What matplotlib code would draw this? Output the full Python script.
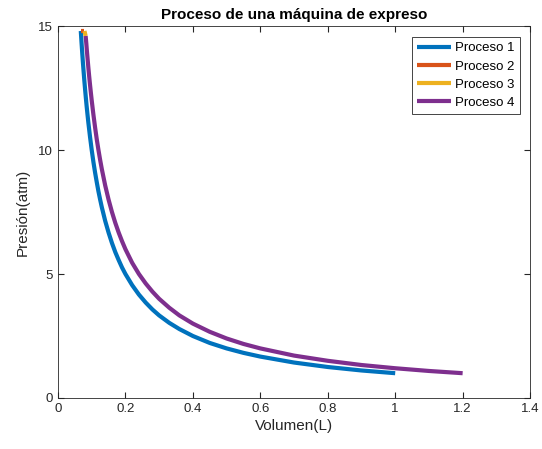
import matplotlib
matplotlib.use("Agg")
import matplotlib.pyplot as plt

plt.rcParams['font.family'] = ['Liberation Sans', 'DejaVu Sans']

# Process 1 (blue)
v1 = [0.0676, 0.07, 0.072, 0.074, 0.076, 0.078, 0.08, 0.0825, 0.085, 0.0875, 0.09, 0.095, 0.1, 0.105, 0.11,
      0.115, 0.12, 0.125, 0.13, 0.14, 0.15, 0.16, 0.17, 0.18, 0.19, 0.2, 0.22, 0.24, 0.26, 0.28, 0.3, 0.33,
      0.36, 0.4, 0.45, 0.5, 0.55, 0.6, 0.7, 0.8, 0.9, 1.0]
p1 = [14.8, 14.29, 13.89, 13.51, 13.16, 12.82, 12.5, 12.12, 11.76, 11.43, 11.11, 10.53, 10.0, 9.52, 9.09,
      8.7, 8.33, 8.0, 7.69, 7.14, 6.67, 6.25, 5.88, 5.56, 5.26, 5.0, 4.55, 4.17, 3.85, 3.57, 3.33, 3.03,
      2.78, 2.5, 2.22, 2.0, 1.82, 1.67, 1.43, 1.25, 1.11, 1.0]
# Process 2 (orange)
v2 = [0.0676, 0.0785]
p2 = [14.8, 14.8]
# Process 3 (yellow)
v3 = [0.0785, 0.082]
p3 = [14.8, 14.6]
# Process 4 (purple)
v4 = [0.082, 0.084, 0.086, 0.088, 0.09, 0.0925, 0.095, 0.0975, 0.1, 0.105, 0.11, 0.115, 0.12, 0.125, 0.13,
      0.14, 0.15, 0.16, 0.17, 0.18, 0.19, 0.2, 0.22, 0.24, 0.26, 0.28, 0.3, 0.33, 0.36, 0.4, 0.45, 0.5,
      0.55, 0.6, 0.7, 0.8, 0.9, 1.0, 1.1, 1.2]
p4 = [14.6, 14.29, 13.95, 13.64, 13.33, 12.97, 12.63, 12.31, 12.0, 11.43, 10.91, 10.43, 10.0, 9.6, 9.23,
      8.57, 8.0, 7.5, 7.06, 6.67, 6.32, 6.0, 5.45, 5.0, 4.62, 4.29, 4.0, 3.64, 3.33, 3.0, 2.67, 2.4,
      2.18, 2.0, 1.71, 1.5, 1.33, 1.2, 1.09, 1.0]

labels = ['Proceso 1', 'Proceso 2', 'Proceso 3', 'Proceso 4']
colors = ['#0072BD', '#D95319', '#EDB120', '#7E2F8E']

fig = plt.figure(figsize=(5.42, 4.49), dpi=100)
ax = fig.add_axes([0.107, 0.1136, 0.871, 0.8284])
for v, p, lab, c in zip([v1, v2, v3, v4], [p1, p2, p3, p4], labels, colors):
    ax.plot(v, p, color=c, lw=3, label=lab, solid_capstyle='butt')

ax.set_xlim(0, 1.4)
ax.set_ylim(0, 15)
ax.set_xticks([0, 0.2, 0.4, 0.6, 0.8, 1.0, 1.2, 1.4])
ax.set_xticklabels(['0', '0.2', '0.4', '0.6', '0.8', '1', '1.2', '1.4'])
ax.set_yticks([0, 5, 10, 15])
ax.tick_params(direction='in', top=True, right=True, labelsize=9.5, length=4, colors='#262626')
for s in ax.spines.values():
    s.set_color('#262626')
    s.set_linewidth(0.6)
ax.set_xlabel('Volumen(L)', fontsize=11, color='#262626', labelpad=3)
ax.set_ylabel('Presión(atm)', fontsize=11, color='#262626', labelpad=6)
ax.set_title('Proceso de una máquina de expreso', fontsize=11, fontweight='bold', pad=5)
leg = ax.legend(loc='upper right', fontsize=9.5, fancybox=False, edgecolor='#262626',
                handlelength=2.6, borderpad=0.4, labelspacing=0.45, handletextpad=0.3,
                borderaxespad=0, bbox_to_anchor=(0.979, 0.971), framealpha=1)
leg.get_frame().set_linewidth(0.6)

fig.savefig('out.png', dpi=100)
